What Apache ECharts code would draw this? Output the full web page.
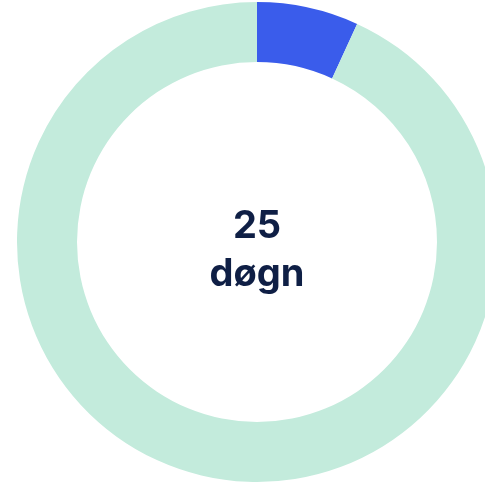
<!DOCTYPE html>
<html>
<head>
<meta charset="utf-8">
<script src="https://cdn.jsdelivr.net/npm/echarts@6/dist/echarts.min.js"></script>
<style>
  html, body { margin: 0; padding: 0; background: #fff; }
  #main { width: 485px; height: 483px; }
</style>
</head>
<body>
<div id="main"></div>
<script>
// days out of the year
var labels = ['25 døgn', 'rest'];
var values = [25, 340];
var colors = ['#3a5ceb', '#c3ebdc'];
var centerText = '25\ndøgn';

var chart = echarts.init(document.getElementById('main'));

var option = {
    animation: false,
    series: [{
        type: 'pie',
        center: [257, 242],
        radius: [180, 240],
        startAngle: 90,
        clockwise: true,
        silent: true,
        label: { show: false },
        labelLine: { show: false },
        data: labels.map((name, i) => ({ name: name, value: values[i], itemStyle: { color: colors[i] } }))
    }],
    graphic: [{
        type: 'text',
        x: 257,
        y: 251,
        style: {
            text: centerText,
            fill: '#0f1f45',
            font: 'bold 38px Inter, sans-serif',
            lineHeight: 48,
            align: 'center',
            verticalAlign: 'middle'
        }
    }]
};
chart.setOption(option);
</script>
</body>
</html>
